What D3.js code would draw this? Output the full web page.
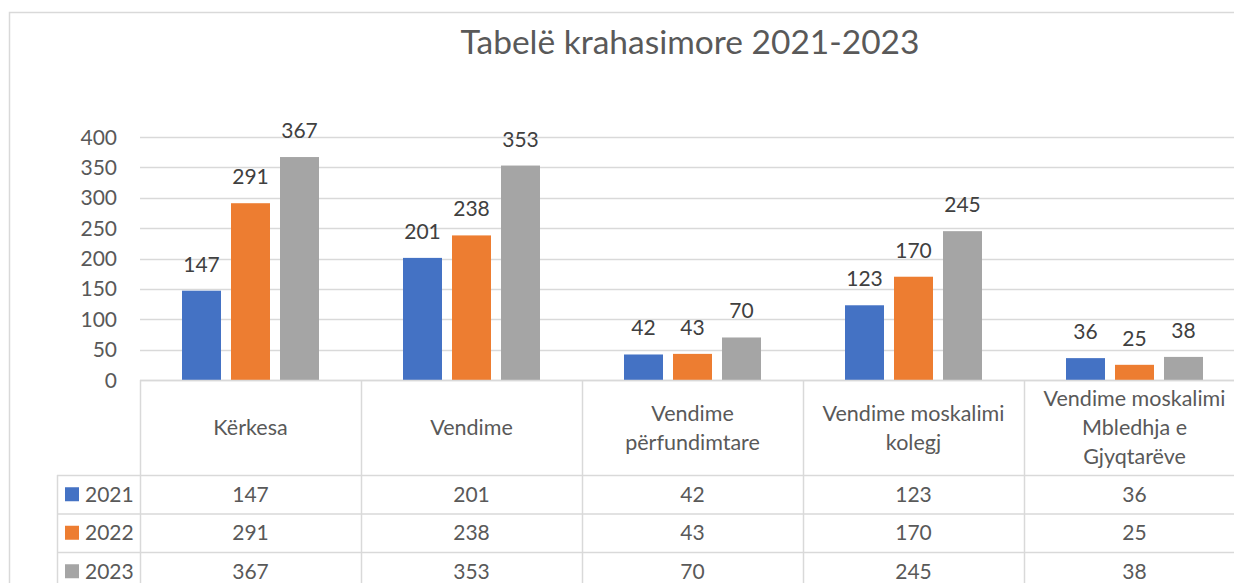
<!DOCTYPE html>
<html>
<head>
<meta charset="utf-8">
<script src="https://cdn.jsdelivr.net/npm/d3@7"></script>
<style>
  html, body { margin: 0; padding: 0; background: #fff; }
  svg { display: block; font-family: Lato, 'Open Sans', sans-serif; }
</style>
</head>
<body>
<div id="chart"></div>
<script>
// chart data
const title = 'Tabelë krahasimore 2021-2023'
const categories = ['Kërkesa', 'Vendime', 'Vendime\npërfundimtare', 'Vendime moskalimi\nkolegj', 'Vendime moskalimi\nMbledhja e\nGjyqtarëve']
const years = ['2021', '2022', '2023']
const values2021 = [147, 201, 42, 123, 36]
const values2022 = [291, 238, 43, 170, 25]
const values2023 = [367, 353, 70, 245, 38]
const yTicks = [0, 50, 100, 150, 200, 250, 300, 350, 400]
const colors = ['#4472C4', '#ED7D31', '#A5A5A5']

const series = [values2021, values2022, values2023]
const width = 1234
const height = 583
const gridColor = '#D9D9D9'
const textColor = '#595959'

const svg = d3.select('#chart').append('svg').attr('width', width).attr('height', height)

// outer chart frame (runs off right & bottom edge like the cropped source)
svg.append('rect')
  .attr('x', 9.5).attr('y', 12.5)
  .attr('width', 1300).attr('height', 700)
  .attr('fill', 'none').attr('stroke', gridColor).attr('stroke-width', 1.5)

svg.append('text')
  .attr('x', 690).attr('y', 54)
  .attr('text-anchor', 'middle')
  .attr('font-size', 33.5)
  .attr('fill', textColor)
  .text(title)

const plotLeft = 140
const colW = 221
const x0 = d3.scaleBand().domain(d3.range(categories.length)).range([plotLeft, plotLeft + colW * categories.length])
const x1 = d3.scaleBand().domain(d3.range(years.length)).range([42, colW - 42]).paddingInner(10 / 49)
const y = d3.scaleLinear().domain([0, 400]).range([380, 137])

// gridlines
svg.append('g')
  .selectAll('line')
  .data(yTicks)
  .join('line')
  .attr('x1', plotLeft).attr('x2', width)
  .attr('y1', (d) => Math.round(y(d)) + 0.5).attr('y2', (d) => Math.round(y(d)) + 0.5)
  .attr('stroke', gridColor).attr('stroke-width', 1.3)

// y tick labels
svg.append('g')
  .attr('font-size', 21)
  .attr('fill', textColor)
  .attr('text-anchor', 'end')
  .selectAll('text')
  .data(yTicks)
  .join('text')
  .attr('x', 117)
  .attr('y', (d) => y(d))
  .attr('dy', '0.36em')
  .text((d) => d)

// bars
const groups = svg.append('g')
  .selectAll('g')
  .data(categories.map((c, i) => i))
  .join('g')
  .attr('transform', (i) => `translate(${x0(i)},0)`)

groups.selectAll('rect')
  .data((i) => series.map((s, k) => ({ k, v: s[i] })))
  .join('rect')
  .attr('x', (d) => x1(d.k))
  .attr('width', x1.bandwidth())
  .attr('y', (d) => y(d.v))
  .attr('height', (d) => y(0) - y(d.v))
  .attr('fill', (d) => colors[d.k])

groups.selectAll('text')
  .data((i) => series.map((s, k) => ({ k, v: s[i] })))
  .join('text')
  .attr('x', (d) => x1(d.k) + x1.bandwidth() / 2)
  .attr('y', (d) => y(d.v) - 19)
  .attr('text-anchor', 'middle')
  .attr('font-size', 21)
  .attr('fill', '#404040')
  .text((d) => d.v)

// data table
const headerBottom = 475
const rowH = 38.5
const tableRight = plotLeft + colW * categories.length
const table = svg.append('g').attr('stroke', gridColor).attr('stroke-width', 1.5)

// x axis / header top
table.append('line').attr('x1', plotLeft).attr('x2', tableRight).attr('y1', 380.5).attr('y2', 380.5)
// column dividers
table.selectAll('line.col')
  .data(d3.range(categories.length + 1))
  .join('line')
  .attr('class', 'col')
  .attr('x1', (i) => plotLeft + i * colW + 0.5).attr('x2', (i) => plotLeft + i * colW + 0.5)
  .attr('y1', 380).attr('y2', height + 20)
// row lines
table.selectAll('line.row')
  .data(d3.range(years.length + 1))
  .join('line')
  .attr('class', 'row')
  .attr('x1', 57).attr('x2', tableRight)
  .attr('y1', (r) => headerBottom + r * rowH + 0.5).attr('y2', (r) => headerBottom + r * rowH + 0.5)
// legend column left edge
table.append('line').attr('x1', 57.5).attr('x2', 57.5).attr('y1', headerBottom).attr('y2', height + 20)

// category headers
const lineH = 29
svg.append('g')
  .attr('font-size', 21.5)
  .attr('fill', textColor)
  .attr('text-anchor', 'middle')
  .selectAll('text')
  .data(categories)
  .join('text')
  .attr('x', (d, i) => x0(i) + colW / 2)
  .each(function (d) {
    const lines = d.split('\n')
    const mid = (380 + headerBottom) / 2
    d3.select(this).selectAll('tspan')
      .data(lines)
      .join('tspan')
      .attr('x', d3.select(this).attr('x'))
      .attr('y', (l, j) => mid + (j - (lines.length - 1) / 2) * lineH)
      .attr('dy', '0.36em')
      .text((l) => l)
  })

// legend rows + values
const rows = svg.append('g')
  .selectAll('g')
  .data(years)
  .join('g')
  .attr('transform', (d, k) => `translate(0,${headerBottom + k * rowH + rowH / 2})`)

rows.append('rect')
  .attr('x', 65).attr('y', -7).attr('width', 14).attr('height', 14)
  .attr('fill', (d, k) => colors[k])

rows.append('text')
  .attr('x', 85).attr('dy', '0.36em')
  .attr('font-size', 21).attr('fill', textColor)
  .text((d) => d)

rows.selectAll('text.val')
  .data((d, k) => series[k])
  .join('text')
  .attr('class', 'val')
  .attr('x', (v, i) => x0(i) + colW / 2)
  .attr('dy', '0.36em')
  .attr('text-anchor', 'middle')
  .attr('font-size', 21).attr('fill', textColor)
  .text((v) => v)
</script>
</body>
</html>
